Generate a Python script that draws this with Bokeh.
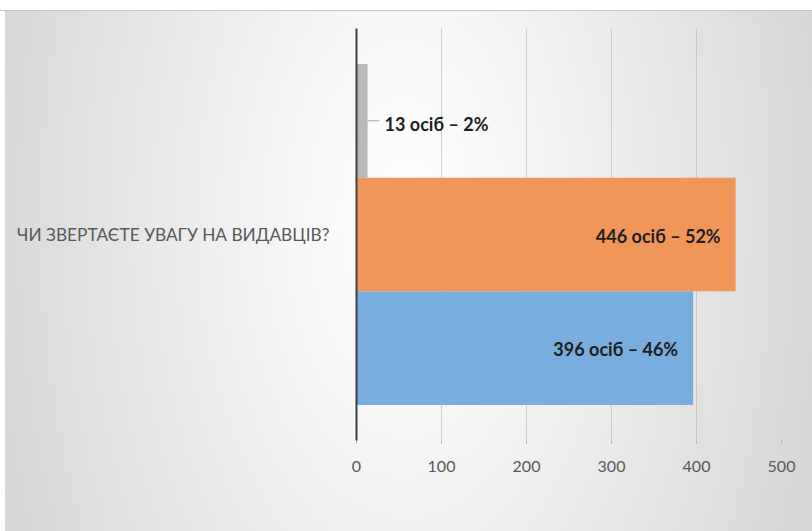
from bokeh.plotting import figure
from bokeh.models import ColumnDataSource, FactorRange, Legend, LegendItem, FixedTicker
from bokeh.transform import dodge
from bokeh.core.properties import value
from bokeh.embed import file_html
from bokeh.resources import INLINE

# ---- data ----
category = "ЧИ ЗВЕРТАЄТЕ УВАГУ НА ВИДАВЦІВ?"
series_names = ["Так", "Ні", "Не відповіли"]
series_counts = [396, 446, 13]
series_percents = [46, 52, 2]
x_ticks = [0, 100, 200, 300, 400, 500]

colors = ["#78addd", "#f0965a", "#b8b8b8"]
offsets = [-0.276, 0.0, 0.276]
bar_h = 0.276

p = figure(frame_width=425, frame_height=412, output_backend="svg", toolbar_location=None,
           x_range=(0, 500), y_range=FactorRange(factors=[category], range_padding=0),
           min_border_left=356, min_border_right=31, min_border_top=28, min_border_bottom=0)

p.background_fill_color = None
p.border_fill_color = None
p.outline_line_color = None
p.styles = {
    "background": "linear-gradient(#ffffff, #ffffff) 0 0 / 100% 10px no-repeat, "
                  "linear-gradient(#c6c6c6, #c6c6c6) 0 10px / 100% 1px no-repeat, "
                  "linear-gradient(#ffffff, #ffffff) 0 0 / 5px 100% no-repeat, "
                  "radial-gradient(ellipse 62% 92% at 50% 22%, #ffffff 0%, #f8f8f8 20%, #e6e6e6 55%, #d7d7d7 85%, #d3d3d3 100%)"
}

renderers = []
for name, cnt, pct, col, off in zip(series_names, series_counts, series_percents, colors, offsets):
    src = ColumnDataSource(dict(y=[category], x=[cnt], label=[f"{cnt} осіб – {pct}%"]))
    r = p.hbar(y=dodge("y", off, range=p.y_range), right="x", left=0, height=bar_h,
               source=src, fill_color=col, line_color=None)
    renderers.append((name, r))
    if cnt > 100:
        p.text(x="x", y=dodge("y", off, range=p.y_range), text="label", source=src,
               text_align="right", text_baseline="middle", x_offset=-15, y_offset=1,
               text_font=value("Lato"), text_font_style="bold", text_font_size="18px",
               text_color="#1e1e1e")
    else:
        p.segment(x0="x", x1=dodge("x", 14, range=p.x_range), y0=dodge("y", off, range=p.y_range),
                  y1=dodge("y", off, range=p.y_range), source=src,
                  line_color="#a6a6a6", line_width=1)
        p.text(x="x", y=dodge("y", off, range=p.y_range), text="label", source=src,
               text_align="left", text_baseline="middle", x_offset=17, y_offset=3,
               text_font=value("Lato"), text_font_style="bold", text_font_size="18px",
               text_color="#1e1e1e")

# axes
p.xaxis.ticker = FixedTicker(ticks=x_ticks)
p.xaxis.axis_line_color = None
p.xaxis.major_tick_out = 3
p.xaxis.major_tick_in = 0
p.xaxis.major_tick_line_color = "#b0b0b0"
p.xaxis.minor_tick_line_color = None
p.xaxis.major_label_standoff = 17
p.xaxis.major_label_text_font = "Lato"
p.xaxis.major_label_text_font_size = "16px"
p.xaxis.major_label_text_color = "#595959"

p.yaxis.axis_line_color = "#404040"
p.yaxis.axis_line_width = 2
p.yaxis.major_tick_line_color = None
p.yaxis.minor_tick_line_color = None
p.yaxis.major_label_standoff = 21
p.yaxis.major_label_text_font = "Lato"
p.yaxis.major_label_text_font_size = "17.3px"
p.yaxis.major_label_text_color = "#595959"

p.xgrid.ticker = FixedTicker(ticks=x_ticks[1:])
p.xgrid.grid_line_color = "#b4b4b4"
p.xgrid.grid_line_alpha = 0.6
p.ygrid.grid_line_color = None

# legend (reverse order: Не відповіли, Ні, Так)
items = [LegendItem(label=n, renderers=[r]) for n, r in reversed(renderers)]
legend = Legend(items=items, orientation="horizontal", location="left",
                glyph_width=10, glyph_height=10, label_standoff=6, spacing=19,
                padding=6, margin=9,
                label_text_font="Lato", label_text_font_size="18px", label_text_color="#595959",
                background_fill_color="#ededed", background_fill_alpha=0.8,
                border_line_color=None)
p.add_layout(legend, "below")

open("out.html", "w").write(file_html(p, INLINE))
